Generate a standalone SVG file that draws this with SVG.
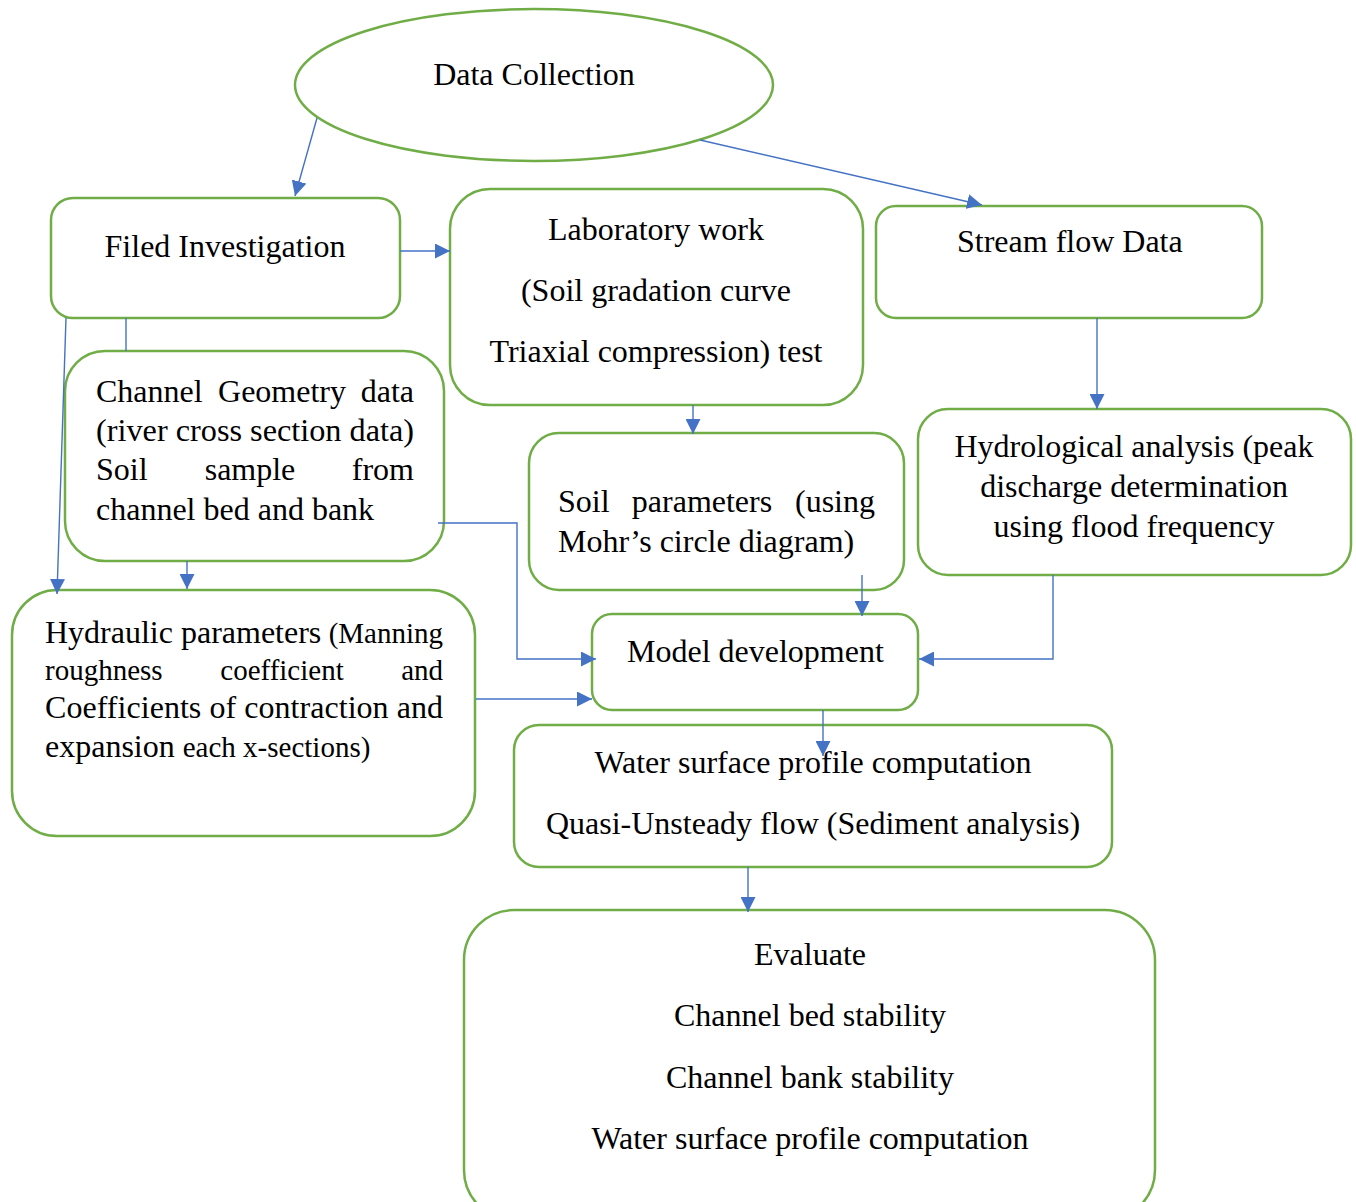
<svg xmlns="http://www.w3.org/2000/svg" width="1356" height="1202" viewBox="0 0 1356 1202">
<style>
.box{fill:#fff;stroke:#70AD47;stroke-width:2.5}
.t{font-family:"Liberation Serif","Times New Roman",serif;font-size:32px;fill:#000}
.s{font-size:29px}
.c{text-anchor:middle}
.e{text-anchor:end}
.con{fill:none;stroke:#4472C4;stroke-width:1.4}
</style>
<defs>
<marker id="ah" markerUnits="userSpaceOnUse" markerWidth="16" markerHeight="15" refX="15" refY="7.5" orient="auto">
<path d="M0,0 L15,7.5 L0,15 Z" fill="#4472C4"/>
</marker>
</defs>
<rect width="1356" height="1202" fill="#fff"/>

<g id="data-collection">
<ellipse class="box" cx="534" cy="85" rx="239" ry="76"/>
<text class="t c" x="534" y="85">Data Collection</text>
</g>

<g id="filed-investigation">
<rect class="box" x="51" y="198" width="349" height="120" rx="22"/>
<text class="t c" x="225" y="257">Filed Investigation</text>
</g>

<g id="laboratory-work">
<rect class="box" x="450" y="189" width="413" height="216" rx="40"/>
<text class="t c" x="656" y="240">Laboratory work</text>
<text class="t c" x="656" y="301">(Soil gradation curve</text>
<text class="t c" x="656" y="362">Triaxial compression) test</text>
</g>

<g id="stream-flow-data">
<rect class="box" x="876" y="206" width="386" height="112" rx="20"/>
<text class="t" x="957" y="252">Stream flow Data</text>
</g>

<g id="channel-geometry">
<rect class="box" x="65" y="351" width="379" height="210" rx="40"/>
<text class="t" x="96" y="402">Channel</text>
<text class="t c" x="282" y="402">Geometry</text>
<text class="t e" x="414" y="402">data</text>
<text class="t" x="96" y="441" textLength="318" lengthAdjust="spacingAndGlyphs">(river cross section data)</text>
<text class="t" x="96" y="480">Soil</text>
<text class="t c" x="250" y="480">sample</text>
<text class="t e" x="414" y="480">from</text>
<text class="t" x="96" y="520">channel bed and bank</text>
</g>

<g id="soil-parameters">
<rect class="box" x="529" y="433" width="375" height="157" rx="30"/>
<text class="t" x="558" y="512">Soil</text>
<text class="t c" x="702" y="512">parameters</text>
<text class="t e" x="875" y="512">(using</text>
<text class="t" x="558" y="552">Mohr’s circle diagram)</text>
</g>

<g id="hydrological-analysis">
<rect class="box" x="918" y="409" width="433" height="166" rx="30"/>
<text class="t c" x="1134" y="457">Hydrological analysis (peak</text>
<text class="t c" x="1134" y="497">discharge determination</text>
<text class="t c" x="1134" y="537">using flood frequency</text>
</g>

<g id="hydraulic-parameters">
<rect class="box" x="12" y="590" width="463" height="246" rx="45"/>
<text class="t" x="45" y="643">Hydraulic parameters</text>
<text class="t s e" x="443" y="643">(Manning</text>
<text class="t s" x="45" y="680">roughness</text>
<text class="t s c" x="282" y="680">coefficient</text>
<text class="t s e" x="443" y="680">and</text>
<text class="t" x="45" y="718" textLength="398" lengthAdjust="spacing">Coefficients of contraction and</text>
<text class="t" x="45" y="757">expansion <tspan class="s">each x-sections)</tspan></text>
</g>

<g id="model-development">
<rect class="box" x="592" y="614" width="326" height="96" rx="20"/>
<text class="t" x="627" y="662">Model development</text>
</g>

<g id="water-surface">
<rect class="box" x="514" y="725" width="598" height="142" rx="25"/>
<text class="t c" x="813" y="773">Water surface profile computation</text>
<text class="t c" x="813" y="834">Quasi-Unsteady flow (Sediment analysis)</text>
</g>

<g id="evaluate">
<rect class="box" x="464" y="910" width="691" height="310" rx="50"/>
<text class="t c" x="810" y="965">Evaluate</text>
<text class="t c" x="810" y="1026">Channel bed stability</text>
<text class="t c" x="810" y="1088">Channel bank stability</text>
<text class="t c" x="810" y="1149">Water surface profile computation</text>
</g>

<g id="connectors">
<path class="con" d="M317,118 L295,196" marker-end="url(#ah)"/>
<path class="con" d="M700,140 L982,205" marker-end="url(#ah)"/>
<path class="con" d="M400,251 L450,251" marker-end="url(#ah)"/>
<path class="con" d="M66,318 L57,594" marker-end="url(#ah)"/>
<path class="con" d="M126,318 L126,351"/>
<path class="con" d="M187,561 L187,589" marker-end="url(#ah)"/>
<path class="con" d="M693,405 L693,434" marker-end="url(#ah)"/>
<path class="con" d="M438,523 L517,523 L517,659 L596,659" marker-end="url(#ah)"/>
<path class="con" d="M862,575 L862,616" marker-end="url(#ah)"/>
<path class="con" d="M1053,575 L1053,659 L919,659" marker-end="url(#ah)"/>
<path class="con" d="M476,699 L592,699" marker-end="url(#ah)"/>
<path class="con" d="M1097,318 L1097,409" marker-end="url(#ah)"/>
<path class="con" d="M823,710 L823,756" marker-end="url(#ah)"/>
<path class="con" d="M748,867 L748,912" marker-end="url(#ah)"/>
</g>
</svg>
